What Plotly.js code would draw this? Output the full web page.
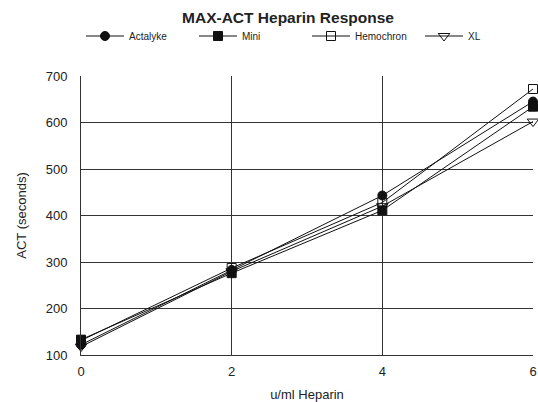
<!DOCTYPE html>
<html>
<head>
<meta charset="utf-8">
<script src="https://cdn.plot.ly/plotly-3.0.1.min.js"></script>
<style>html,body{margin:0;padding:0;background:#fff;}</style>
</head>
<body>
<div id="chart" style="width:538px;height:402px;"></div>
<script>
const heparin = [0, 2, 4, 6];
const seriesNames = ["Actalyke", "Mini", "Hemochron", "XL"];
const actalyke = [122, 283, 443, 645];
const mini = [133, 276, 411, 634];
const hemochron = [131, 287, 428, 672];
const xl = [118, 280, 420, 602];
const xTicks = [0, 2, 4, 6];
const yTicks = [100, 200, 300, 400, 500, 600, 700];

const values = [actalyke, mini, hemochron, xl];
const symbols = ["circle", "square", "square-open", "triangle-down-open"];
const sizes = [9, 9, 9, 10];
const legendIds = ["legend", "legend2", "legend3", "legend4"];
const legendMarkerX = [100, 213, 326, 439];

const traces = seriesNames.map((n, i) => ({
  type: "scatter",
  mode: "lines+markers",
  name: n,
  x: heparin,
  y: values[i],
  legend: legendIds[i],
  line: {color: "#111", width: 1},
  marker: {symbol: symbols[i], size: sizes[i], color: "#111", line: {color: "#111", width: 1}},
  cliponaxis: false
}));

const layout = {
  width: 538, height: 402,
  margin: {l: 81, r: 5, t: 76, b: 47},
  paper_bgcolor: "#fff", plot_bgcolor: "#fff",
  font: {family: "Liberation Sans, Arial, sans-serif", color: "#222"},
  title: {text: "<b>MAX-ACT Heparin Response</b>", font: {size: 15.5, family: "Liberation Sans, Arial, sans-serif", color: "#222"},
          x: 288/538, xanchor: "center", y: 1 - 18/402, yanchor: "middle", xref: "container", yref: "container"},
  showlegend: true,
  xaxis: {
    range: [0, 6], tickvals: xTicks, ticktext: xTicks.map(String),
    showgrid: true, gridcolor: "#333", gridwidth: 1,
    zeroline: false, showline: true, linecolor: "#333", linewidth: 1, mirror: false,
    ticks: "", tickfont: {size: 13, color: "#222"}, ticklabelstandoff: 4,
    title: {text: "u/ml Heparin", font: {size: 13, color: "#222"}, standoff: 12}
  },
  yaxis: {
    range: [100, 700], tickvals: yTicks, ticktext: yTicks.map(String),
    showgrid: true, gridcolor: "#333", gridwidth: 1,
    zeroline: false, showline: true, linecolor: "#333", linewidth: 1,
    ticks: "", tickfont: {size: 13, color: "#222"}, ticklabelstandoff: 10,
    title: {text: "ACT (seconds)", font: {size: 13, color: "#222"}, standoff: 16}
  }
};

legendIds.forEach((id, i) => {
  layout[id] = {orientation: "h", xref: "container", yref: "container",
    x: (legendMarkerX[i] - 19) / 538, xanchor: "left", y: 1 - 36/402, yanchor: "middle",
    font: {size: 10, color: "#222"}, itemwidth: 38, bgcolor: "rgba(0,0,0,0)"};
});

Plotly.newPlot("chart", traces, layout, {displayModeBar: false, staticPlot: true});
</script>
</body>
</html>
